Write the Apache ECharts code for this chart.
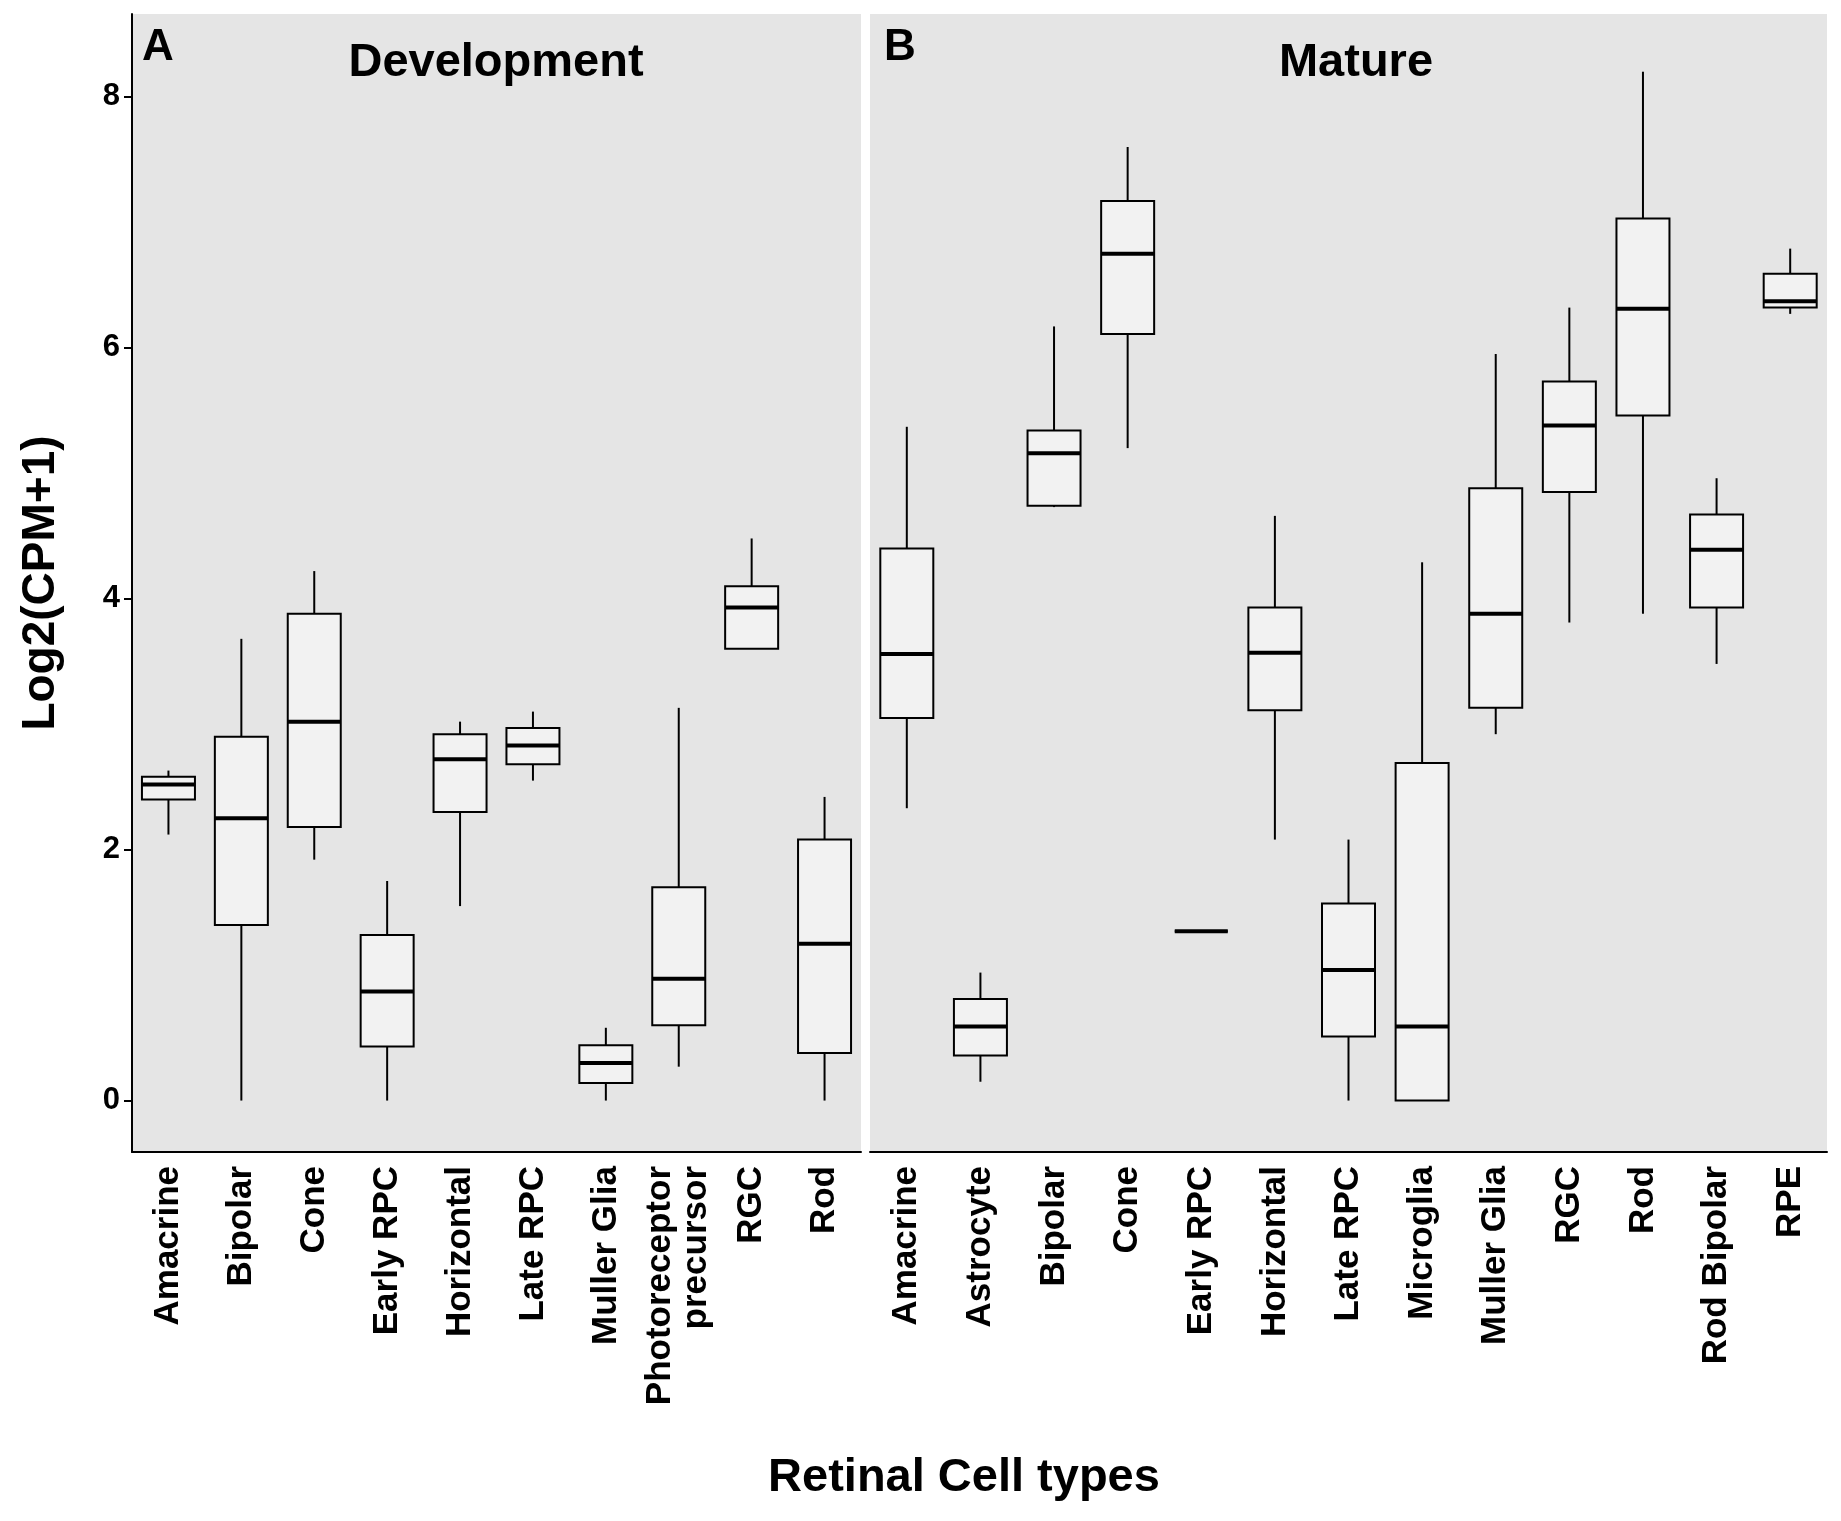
<!DOCTYPE html>
<html><head><meta charset="utf-8">
<script src="https://cdn.jsdelivr.net/npm/echarts@6/dist/echarts.min.js"></script>
<style>html,body{margin:0;padding:0;background:#fff}#c{width:1841px;height:1521px}</style>
</head><body><div id="c"></div>
<script>
const devCategories = ['Amacrine','Bipolar','Cone','Early RPC','Horizontal','Late RPC','Muller Glia','Photoreceptor\nprecursor','RGC','Rod'];
// [min, q1, median, q3, max]
const devValues = [
 [2.12,2.4,2.52,2.58,2.63],
 [0,1.4,2.25,2.9,3.68],
 [1.92,2.18,3.02,3.88,4.22],
 [0,0.43,0.87,1.32,1.75],
 [1.55,2.3,2.72,2.92,3.02],
 [2.55,2.68,2.83,2.97,3.1],
 [0,0.14,0.3,0.44,0.58],
 [0.27,0.6,0.97,1.7,3.13],
 [3.6,3.6,3.93,4.1,4.48],
 [0,0.38,1.25,2.08,2.42]
];
const matCategories = ['Amacrine','Astrocyte','Bipolar','Cone','Early RPC','Horizontal','Late RPC','Microglia','Muller Glia','RGC','Rod','Rod Bipolar','RPE'];
const matValues = [
 [2.33,3.05,3.56,4.4,5.37],
 [0.15,0.36,0.59,0.81,1.02],
 [4.73,4.74,5.16,5.34,6.17],
 [5.2,6.11,6.75,7.17,7.6],
 [1.35,1.35,1.35,1.35,1.35],
 [2.08,3.11,3.57,3.93,4.66],
 [0,0.51,1.04,1.57,2.08],
 [0,0,0.59,2.69,4.29],
 [2.92,3.13,3.88,4.88,5.95],
 [3.81,4.85,5.38,5.73,6.32],
 [3.88,5.46,6.31,7.03,8.2],
 [3.48,3.93,4.39,4.67,4.96],
 [6.27,6.32,6.37,6.59,6.79]
];
const yTicks = [0,2,4,6,8];

const FONT = '"Liberation Sans", Arial, sans-serif';
function renderBox(params, api){
  const i = api.value(0);
  const lo=api.coord([i,api.value(1)]), q1=api.coord([i,api.value(2)]),
        md=api.coord([i,api.value(3)]), q3=api.coord([i,api.value(4)]), hi=api.coord([i,api.value(5)]);
  const w = 53, x=lo[0];
  const st={stroke:'#000',lineWidth:2};
  return {type:'group',children:[
    {type:'line',shape:{x1:x,y1:lo[1],x2:x,y2:q1[1]},style:st},
    {type:'line',shape:{x1:x,y1:q3[1],x2:x,y2:hi[1]},style:st},
    {type:'rect',shape:{x:x-w/2,y:q3[1],width:w,height:q1[1]-q3[1]},style:{fill:'#f2f2f2',stroke:'#000',lineWidth:2}},
    {type:'line',shape:{x1:x-w/2,y1:md[1],x2:x+w/2,y2:md[1]},style:{stroke:'#000',lineWidth:4}}
  ]};
}
const xAxisCommon = {
  type:'category',
  axisLine:{onZero:false,lineStyle:{color:'#000',width:2}},
  axisTick:{alignWithLabel:true,length:8,lineStyle:{color:'#000',width:2}},
  axisLabel:{rotate:90,interval:0,color:'#000',fontFamily:FONT,fontWeight:'bold',fontSize:35,margin:14,lineHeight:36},
  splitLine:{show:false}
};
const yAxisCommon = {type:'value',min:-0.41,max:8.66,splitLine:{show:false}};
const chart = echarts.init(document.getElementById('c'));
chart.setOption({
  animation:false,
  backgroundColor:'#fff',
  grid:[
    {left:132,width:729,top:14,bottom:369,show:true,backgroundColor:'#e5e5e5',borderWidth:0},
    {left:870,width:957,top:14,bottom:369,show:true,backgroundColor:'#e5e5e5',borderWidth:0}
  ],
  xAxis:[
    Object.assign({gridIndex:0,data:devCategories},xAxisCommon),
    Object.assign({gridIndex:1,data:matCategories},xAxisCommon)
  ],
  yAxis:[
    Object.assign({gridIndex:0,name:'Log2(CPM+1)',nameLocation:'middle',nameGap:68,
      nameTextStyle:{color:'#000',fontFamily:FONT,fontWeight:'bold',fontSize:46},
      axisLine:{show:true,lineStyle:{color:'#000',width:2}},
      axisTick:{show:true,length:8,customValues:yTicks,lineStyle:{color:'#000',width:2}},
      axisLabel:{customValues:yTicks,color:'#000',fontFamily:FONT,fontWeight:'bold',fontSize:31,margin:12}},yAxisCommon),
    Object.assign({gridIndex:1,axisLine:{show:false},axisTick:{show:false},axisLabel:{show:false}},yAxisCommon)
  ],
  graphic:[
    {type:'text',left:142,top:26,style:{text:'A',font:'bold 44px '+FONT,fill:'#000'}},
    {type:'text',left:884,top:26,style:{text:'B',font:'bold 44px '+FONT,fill:'#000'}},
    {type:'text',x:496,y:40,style:{text:'Development',font:'bold 47px '+FONT,fill:'#000',textAlign:'center'}},
    {type:'text',x:1356,y:40,style:{text:'Mature',font:'bold 47px '+FONT,fill:'#000',textAlign:'center'}},
    {type:'text',x:964,y:1455,style:{text:'Retinal Cell types',font:'bold 47px '+FONT,fill:'#000',textAlign:'center'}}
  ],
  series:[
    {type:'custom',xAxisIndex:0,yAxisIndex:0,renderItem:renderBox,encode:{x:0,y:[1,2,3,4,5]},
     data:devValues.map((v,i)=>[i].concat(v))},
    {type:'custom',xAxisIndex:1,yAxisIndex:1,renderItem:renderBox,encode:{x:0,y:[1,2,3,4,5]},
     data:matValues.map((v,i)=>[i].concat(v))}
  ]
});
</script></body></html>
